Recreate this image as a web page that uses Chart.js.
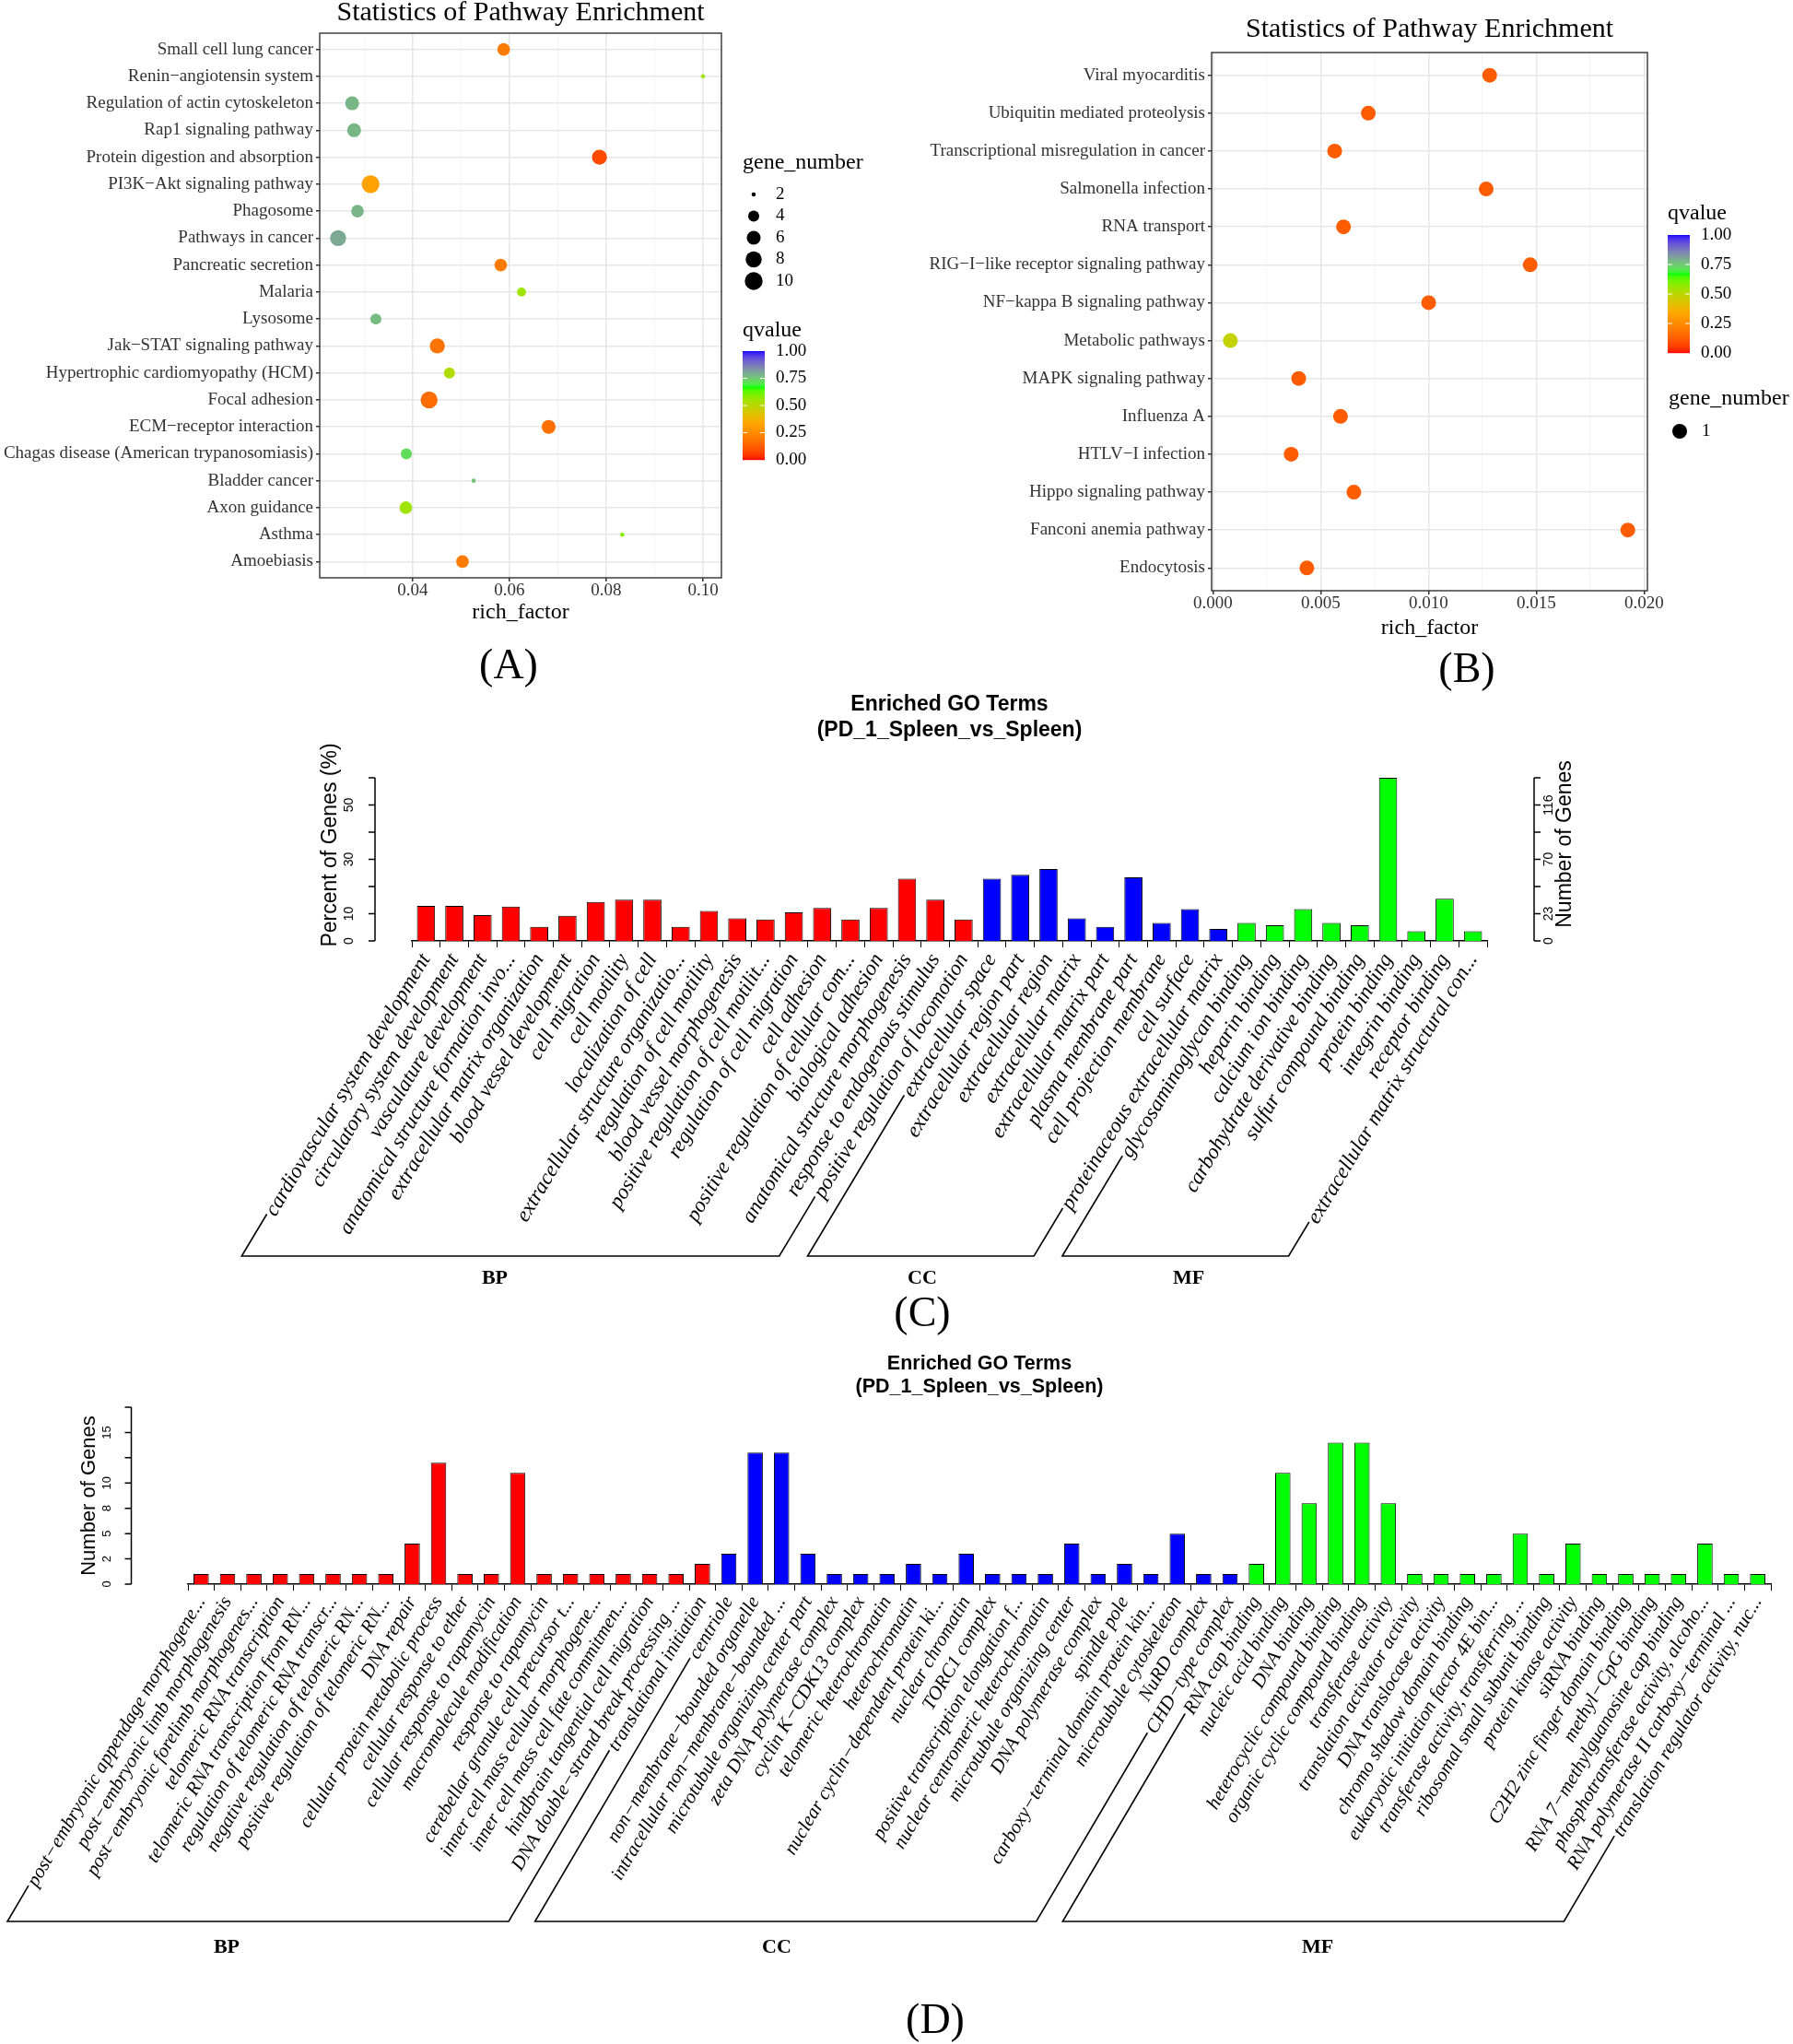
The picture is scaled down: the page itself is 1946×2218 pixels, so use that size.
<!DOCTYPE html>
<html>
<head>
<meta charset="utf-8">
<title>Pathway enrichment and GO terms</title>
<script src="https://cdn.jsdelivr.net/npm/chart.js@4.4.1/dist/chart.umd.min.js"></script>
<style>
  html, body { margin: 0; padding: 0; background: #fff; }
  body { position: relative; width: 1946px; height: 2218px; overflow: hidden; }
  canvas { position: absolute; }
  .tag { position: absolute; font-family: "Liberation Serif", "Times New Roman", serif; font-size: 46px;
         line-height: 1; transform: translate(-50%, -50%); color: #000; }
</style>
</head>
<body>
<canvas id="chartA" width="960" height="705" style="left:0px;top:0px"></canvas>
<canvas id="chartB" width="986" height="705" style="left:960px;top:0px"></canvas>
<canvas id="chartC" width="1946" height="720" style="left:0px;top:740px"></canvas>
<canvas id="chartD" width="1946" height="758" style="left:0px;top:1460px"></canvas>
<div class="tag" style="left:552px;top:721px">(A)</div>
<div class="tag" style="left:1592px;top:725px">(B)</div>
<div class="tag" style="left:1001px;top:1424px">(C)</div>
<div class="tag" style="left:1015px;top:2191px">(D)</div>
<script>
// panel A - pathway enrichment
const pathwaysA = ['Small cell lung cancer', 'Renin−angiotensin system', 'Regulation of actin cytoskeleton',
  'Rap1 signaling pathway', 'Protein digestion and absorption', 'PI3K−Akt signaling pathway', 'Phagosome',
  'Pathways in cancer', 'Pancreatic secretion', 'Malaria', 'Lysosome', 'Jak−STAT signaling pathway',
  'Hypertrophic cardiomyopathy (HCM)', 'Focal adhesion', 'ECM−receptor interaction',
  'Chagas disease (American trypanosomiasis)', 'Bladder cancer', 'Axon guidance', 'Asthma', 'Amoebiasis'];
const richFactorA = [0.0588, 0.1000, 0.0275, 0.0279, 0.0786, 0.0313, 0.0286, 0.0246, 0.0582, 0.0625,
  0.0324, 0.0451, 0.0476, 0.0434, 0.0681, 0.0387, 0.0526, 0.0386, 0.0833, 0.0503];
const geneNumberA = [5, 2, 6, 6, 7, 10, 5, 8, 5, 3, 4, 7, 4, 9, 6, 4, 2, 5, 2, 5];
const qvalueA = [0.2, 0.55, 0.78, 0.78, 0.08, 0.32, 0.78, 0.8, 0.2, 0.55, 0.77, 0.18, 0.52, 0.16, 0.17,
  0.72, 0.76, 0.55, 0.58, 0.2];
const xMajorA = [0.04, 0.06, 0.08, 0.10];
const xMinorA = [0.03, 0.05, 0.07, 0.09];
const xTickLabelsA = ['0.04', '0.06', '0.08', '0.10'];
const sizeBreaksA = [2, 4, 6, 8, 10];

// panel B - pathway enrichment
const pathwaysB = ['Viral myocarditis', 'Ubiquitin mediated proteolysis', 'Transcriptional misregulation in cancer',
  'Salmonella infection', 'RNA transport', 'RIG−I−like receptor signaling pathway', 'NF−kappa B signaling pathway',
  'Metabolic pathways', 'MAPK signaling pathway', 'Influenza A', 'HTLV−I infection', 'Hippo signaling pathway',
  'Fanconi anemia pathway', 'Endocytosis'];
const richFactorB = [0.01284, 0.00721, 0.00565, 0.01268, 0.00606, 0.01472, 0.01001, 0.00081, 0.00398,
  0.00592, 0.00363, 0.00654, 0.01925, 0.00436];
const geneNumberB = [1, 1, 1, 1, 1, 1, 1, 1, 1, 1, 1, 1, 1, 1];
const qvalueB = [0.12, 0.12, 0.12, 0.12, 0.12, 0.12, 0.12, 0.48, 0.12, 0.12, 0.12, 0.12, 0.12, 0.12];
const xMajorB = [0, 0.005, 0.010, 0.015, 0.020];
const xMinorB = [0.0025, 0.0075, 0.0125, 0.0175];
const xTickLabelsB = ['0.000', '0.005', '0.010', '0.015', '0.020'];
const sizeBreaksB = [1];

const qBreaks = [0, 0.25, 0.5, 0.75, 1];
const qBreakLabels = ['0.00', '0.25', '0.50', '0.75', '1.00'];

// panel C - GO terms, percent of genes
const termsBP_C = ['cardiovascular system development', 'circulatory system development', 'vasculature development',
  'anatomical structure formation invo...', 'extracellular matrix organization', 'blood vessel development',
  'cell migration', 'cell motility', 'localization of cell', 'extracellular structure organizatio...',
  'regulation of cell motility', 'blood vessel morphogenesis', 'positive regulation of cell motilit...',
  'regulation of cell migration', 'cell adhesion', 'positive regulation of cellular com...', 'biological adhesion',
  'anatomical structure morphogenesis', 'response to endogenous stimulus', 'positive regulation of locomotion'];
const percentBP_C = [12.9, 12.9, 9.5, 12.6, 5.2, 9.2, 14.3, 15.2, 15.2, 5.2, 11.0, 8.3, 7.9, 10.5, 12.1, 7.9,
  12.1, 22.9, 15.2, 7.9];
const termsCC_C = ['extracellular space', 'extracellular region part', 'extracellular region', 'extracellular matrix',
  'extracellular matrix part', 'plasma membrane part', 'cell projection membrane', 'cell surface',
  'proteinaceous extracellular matrix'];
const percentCC_C = [22.9, 24.3, 26.4, 8.3, 5.2, 23.4, 6.6, 11.7, 4.4];
const termsMF_C = ['glycosaminoglycan binding', 'heparin binding', 'calcium ion binding',
  'carbohydrate derivative binding', 'sulfur compound binding', 'protein binding', 'integrin binding',
  'receptor binding', 'extracellular matrix structural con...'];
const percentMF_C = [6.6, 5.8, 11.7, 6.6, 5.8, 60.0, 3.6, 15.5, 3.6];
const percentTicksC = [0, 10, 20, 30, 40, 50, 60];
const percentTickLabelsC = ['0', '10', '', '30', '', '50', ''];
const geneTicksC = [0, 23.2, 46.4, 69.6, 92.8, 116, 139.2];
const geneTickLabelsC = ['0', '23', '', '70', '', '116', ''];

// panel D - GO terms, number of genes
const termsBP_D = ['post−embryonic appendage morphogene...', 'post−embryonic limb morphogenesis',
  'post−embryonic forelimb morphogenes...', 'telomeric RNA transcription', 'telomeric RNA transcription from RN...',
  'regulation of telomeric RNA transcr...', 'negative regulation of telomeric RN...',
  'positive regulation of telomeric RN...', 'DNA repair', 'cellular protein metabolic process',
  'cellular response to ether', 'cellular response to rapamycin', 'macromolecule modification',
  'response to rapamycin', 'cerebellar granule cell precursor t...', 'inner cell mass cellular morphogene...',
  'inner cell mass cell fate commitmen...', 'hindbrain tangential cell migration',
  'DNA double−strand break processing ...', 'translational initiation'];
const genesBP_D = [1, 1, 1, 1, 1, 1, 1, 1, 4, 12, 1, 1, 11, 1, 1, 1, 1, 1, 1, 2];
const termsCC_D = ['centriole', 'non−membrane−bounded organelle', 'intracellular non−membrane−bounded ...',
  'microtubule organizing center part', 'zeta DNA polymerase complex', 'cyclin K−CDK13 complex',
  'telomeric heterochromatin', 'heterochromatin', 'nuclear cyclin−dependent protein ki...', 'nuclear chromatin',
  'TORC1 complex', 'positive transcription elongation f...', 'nuclear centromeric heterochromatin',
  'microtubule organizing center', 'DNA polymerase complex', 'spindle pole', 'carboxy−terminal domain protein kin...',
  'microtubule cytoskeleton', 'NuRD complex', 'CHD−type complex'];
const genesCC_D = [3, 13, 13, 3, 1, 1, 1, 2, 1, 3, 1, 1, 1, 4, 1, 2, 1, 5, 1, 1];
const termsMF_D = ['RNA cap binding', 'nucleic acid binding', 'DNA binding', 'heterocyclic compound binding',
  'organic cyclic compound binding', 'transferase activity', 'translation activator activity',
  'DNA translocase activity', 'chromo shadow domain binding', 'eukaryotic initiation factor 4E bin...',
  'transferase activity, transferring ...', 'ribosomal small subunit binding', 'protein kinase activity',
  'siRNA binding', 'C2H2 zinc finger domain binding', 'methyl−CpG binding', 'RNA 7−methylguanosine cap binding',
  'phosphotransferase activity, alcoho...', 'RNA polymerase II carboxy−terminal ...',
  'translation regulator activity, nuc...'];
const genesMF_D = [2, 11, 8, 14, 14, 8, 1, 1, 1, 1, 5, 1, 4, 1, 1, 1, 1, 4, 1, 1];
const geneTicksD = [0, 2.5, 5, 7.5, 10, 12.5, 15, 17.5];
const geneTickLabelsD = ['0', '2', '5', '8', '10', '', '15', ''];

const serif = '"Liberation Serif", "Times New Roman", serif';
const sans = '"Liberation Sans", Arial, sans-serif';

// colour ramp red -> orange -> green -> blue, mixed in Lab like ggplot does
const rampStops = ['#ff0000', '#ffa500', '#00ff00', '#0000ff'];
const toLin = c => { c /= 255; return c <= 0.04045 ? c / 12.92 : Math.pow((c + 0.055) / 1.055, 2.4); };
const fromLin = c => {
  c = c <= 0.0031308 ? 12.92 * c : 1.055 * Math.pow(Math.max(c, 0), 1 / 2.4) - 0.055;
  return Math.round(Math.max(0, Math.min(1, c)) * 255);
};
function hexToLab(h) {
  const [r, g, b] = [1, 3, 5].map(i => toLin(parseInt(h.slice(i, i + 2), 16)));
  const X = (0.4124 * r + 0.3576 * g + 0.1805 * b) / 0.95047;
  const Y = 0.2126 * r + 0.7152 * g + 0.0722 * b;
  const Z = (0.0193 * r + 0.1192 * g + 0.9505 * b) / 1.08883;
  const f = t => t > 0.008856 ? Math.cbrt(t) : 7.787 * t + 16 / 116;
  return [116 * f(Y) - 16, 500 * (f(X) - f(Y)), 200 * (f(Y) - f(Z))];
}
function labToCss([L, a, b]) {
  const fy = (L + 16) / 116, fx = fy + a / 500, fz = fy - b / 200;
  const g = t => t * t * t > 0.008856 ? t * t * t : (t - 16 / 116) / 7.787;
  const X = g(fx) * 0.95047, Y = g(fy), Z = g(fz) * 1.08883;
  const r = 3.2406 * X - 1.5372 * Y - 0.4986 * Z;
  const gg = -0.9689 * X + 1.8758 * Y + 0.0415 * Z;
  const bb = 0.0557 * X - 0.2040 * Y + 1.0570 * Z;
  return `rgb(${fromLin(r)},${fromLin(gg)},${fromLin(bb)})`;
}
const rampLab = rampStops.map(hexToLab);
function qColor(q) {
  const t = Math.max(0, Math.min(1, q)) * (rampLab.length - 1);
  const i = Math.min(Math.floor(t), rampLab.length - 2), f = t - i;
  return labToCss(rampLab[i].map((v, k) => v + (rampLab[i + 1][k] - v) * f));
}

const sizeA = n => 2.3 + 7.4 * Math.sqrt(Math.max(n - 2, 0) / 8);
const sizeB = () => 8;

function drawSizeLegend(ctx, l) {
  ctx.fillStyle = '#000';
  ctx.textAlign = 'left';
  ctx.textBaseline = 'middle';
  ctx.font = `24px ${serif}`;
  ctx.fillText('gene_number', l.x, l.titleY);
  ctx.font = `19px ${serif}`;
  l.breaks.forEach((n, i) => {
    const y = l.firstY + i * l.step;
    ctx.beginPath();
    ctx.arc(l.x + 12, y, l.radius(n), 0, Math.PI * 2);
    ctx.fill();
    ctx.fillText(String(n), l.x + 36, y);
  });
}

function drawColorBar(ctx, l) {
  ctx.fillStyle = '#000';
  ctx.textAlign = 'left';
  ctx.textBaseline = 'middle';
  ctx.font = `24px ${serif}`;
  ctx.fillText('qvalue', l.x, l.titleY);
  const h = l.bottom - l.top;
  for (let k = 0; k < h; k++) {
    ctx.fillStyle = qColor(1 - (k + 0.5) / h);
    ctx.fillRect(l.x, l.top + k, 24, 1.2);
  }
  ctx.strokeStyle = '#fff';
  ctx.lineWidth = 1;
  ctx.font = `19px ${serif}`;
  qBreaks.forEach((q, i) => {
    const y = l.bottom - q * h;
    if (q > 0 && q < 1) {
      ctx.beginPath();
      ctx.moveTo(l.x, y); ctx.lineTo(l.x + 5, y);
      ctx.moveTo(l.x + 19, y); ctx.lineTo(l.x + 24, y);
      ctx.stroke();
    }
    ctx.fillStyle = '#000';
    ctx.fillText(qBreakLabels[i], l.x + 36, y);
  });
}

function dotChart(id, cats, rich, genes, qv, radius, cfg) {
  const xTicks = cfg.majors.map((v, i) => ({value: v, label: cfg.labels[i], major: true}))
    .concat(cfg.minors.map(v => ({value: v, label: '', major: false})))
    .sort((p, q) => p.value - q.value);
  const tickFont = {family: serif, size: 19, lineHeight: 1};
  return new Chart(document.getElementById(id), {
    type: 'scatter',
    data: {
      datasets: [{
        data: cats.map((c, i) => ({x: rich[i], y: i})),
        pointRadius: genes.map(radius),
        pointHoverRadius: genes.map(radius),
        pointBackgroundColor: qv.map(qColor),
        pointBorderWidth: 0
      }]
    },
    options: {
      responsive: false, animation: false, events: [], devicePixelRatio: 1,
      layout: {padding: cfg.padding},
      plugins: {legend: {display: false}, tooltip: {enabled: false}},
      scales: {
        x: {
          type: 'linear', min: cfg.xMin, max: cfg.xMax,
          afterBuildTicks: s => { s.ticks = xTicks.map(t => ({value: t.value})); },
          afterFit: s => { s.height = cfg.xHeight; },
          ticks: {autoSkip: false, minRotation: 0, maxRotation: 0, font: tickFont, color: '#333', padding: 1,
                  callback: (v, i) => xTicks[i].label},
          grid: {
            color: c => xTicks[c.index] && xTicks[c.index].major ? '#e6e6e6' : '#f3f3f3',
            lineWidth: c => xTicks[c.index] && xTicks[c.index].major ? 1.5 : 0.9,
            tickColor: c => xTicks[c.index] && xTicks[c.index].major ? '#333' : 'rgba(0,0,0,0)',
            tickLength: 4
          },
          border: {display: false}
        },
        y: {
          type: 'linear', min: -0.6, max: cats.length - 0.4, reverse: true,
          afterBuildTicks: s => { s.ticks = cats.map((c, i) => ({value: i})); },
          afterFit: s => { s.width = cfg.yWidth; },
          ticks: {autoSkip: false, font: tickFont, color: '#333', padding: 3, callback: (v, i) => cats[i]},
          grid: {color: '#e6e6e6', lineWidth: 1.5, tickColor: '#333', tickLength: 4},
          border: {display: false}
        }
      }
    },
    plugins: [{
      id: 'dotPanel',
      afterDraw(chart) {
        const {ctx, chartArea: a} = chart;
        ctx.save();
        ctx.strokeStyle = '#333';
        ctx.lineWidth = 1.4;
        ctx.strokeRect(a.left, a.top, a.right - a.left, a.bottom - a.top);
        ctx.fillStyle = '#000';
        ctx.textAlign = 'center';
        ctx.textBaseline = 'middle';
        ctx.font = `30px ${serif}`;
        ctx.fillText('Statistics of Pathway Enrichment', (a.left + a.right) / 2, cfg.titleY);
        ctx.font = `24px ${serif}`;
        ctx.fillText('rich_factor', (a.left + a.right) / 2, cfg.xTitleY);
        cfg.legends.forEach(l => l.kind === 'size' ? drawSizeLegend(ctx, l) : drawColorBar(ctx, l));
        ctx.restore();
      }
    }]
  });
}

function drawRAxis(ctx, scale, ax, dir, ticks, labels, labelX, tickSize, title, titleX, titleY, titleSize) {
  const ys = ticks.map(v => scale.getPixelForValue(v));
  ctx.strokeStyle = '#000';
  ctx.lineWidth = 1.5;
  ctx.beginPath();
  ctx.moveTo(ax, ys[0]);
  ctx.lineTo(ax, ys[ys.length - 1]);
  ys.forEach(y => { ctx.moveTo(ax, y); ctx.lineTo(ax + dir * 7, y); });
  ctx.stroke();
  ctx.fillStyle = '#000';
  ctx.textAlign = 'center';
  ctx.textBaseline = 'middle';
  ctx.font = `${tickSize}px ${sans}`;
  ys.forEach((y, i) => {
    if (!labels[i]) return;
    ctx.save();
    ctx.translate(labelX, y);
    ctx.rotate(-Math.PI / 2);
    ctx.fillText(labels[i], 0, 0);
    ctx.restore();
  });
  ctx.font = `${titleSize}px ${sans}`;
  ctx.save();
  ctx.translate(titleX, titleY);
  ctx.rotate(-Math.PI / 2);
  ctx.fillText(title, 0, 0);
  ctx.restore();
}

function goChart(id, cfg) {
  const terms = cfg.groups.flatMap(g => g.terms);
  const values = cfg.groups.flatMap(g => g.values);
  const colors = cfg.groups.flatMap(g => g.terms.map(() => g.color));
  const labelFont = {family: serif, size: cfg.labelSize, style: 'italic', lineHeight: 1.2};
  return new Chart(document.getElementById(id), {
    type: 'bar',
    data: {
      labels: terms,
      datasets: [{data: values, backgroundColor: colors, borderColor: '#000', borderWidth: 1,
                  barPercentage: cfg.barPct, categoryPercentage: 1}]
    },
    options: {
      responsive: false, animation: false, events: [], devicePixelRatio: 1,
      layout: {padding: cfg.padding},
      plugins: {legend: {display: false}, tooltip: {enabled: false}},
      scales: {
        x: {
          offset: true,
          afterFit: s => { s.height = cfg.xHeight; },
          ticks: {autoSkip: false, minRotation: cfg.rotation, maxRotation: cfg.rotation,
                  font: labelFont, color: '#000', padding: 2},
          grid: {offset: true, drawOnChartArea: false, drawTicks: true, tickLength: 7, color: '#000', lineWidth: 1},
          border: {display: true, color: '#000', width: 1.5}
        },
        y: {display: false, min: 0, max: cfg.left.ticks[cfg.left.ticks.length - 1]},
        y2: {display: false, position: 'right', min: 0,
             max: cfg.right ? cfg.right.ticks[cfg.right.ticks.length - 1] : 1}
      }
    },
    plugins: [{
      id: 'goPanel',
      afterDraw(chart) {
        const {ctx, chartArea: a} = chart;
        const cx = (a.left + a.right) / 2;
        ctx.save();
        ctx.fillStyle = '#000';
        ctx.textAlign = 'center';
        ctx.textBaseline = 'middle';
        ctx.font = `bold ${cfg.titleSize}px ${sans}`;
        ctx.fillText('Enriched GO Terms', cx, cfg.titleY[0]);
        ctx.fillText('(PD_1_Spleen_vs_Spleen)', cx, cfg.titleY[1]);

        const L = cfg.left;
        drawRAxis(ctx, chart.scales.y, L.x, -1, L.ticks, L.labels, L.labelX, L.tickSize, L.title, L.titleX, L.titleY, L.titleSize);
        if (cfg.right) {
          const R = cfg.right;
          drawRAxis(ctx, chart.scales.y2, R.x, 1, R.ticks, R.labels, R.labelX, R.tickSize, R.title, R.titleX, R.titleY, R.titleSize);
        }

        // group brackets that run along the slanted term labels
        const xs = chart.scales.x;
        const th = cfg.rotation * Math.PI / 180, c = Math.cos(th), s = Math.sin(th);
        const ay = a.bottom + 7 + 2;
        ctx.font = `italic ${cfg.labelSize}px ${serif}`;
        const startOf = i => {
          const w = ctx.measureText(terms[i]).width + cfg.gap;
          const ax = xs.getPixelForValue(i);
          return [ax - w * c, ay + w * s];
        };
        const down = p => [p[0] - (cfg.bracketY - p[1]) * c / s, cfg.bracketY];
        ctx.strokeStyle = '#000';
        ctx.lineWidth = 1.6;
        let idx = 0;
        const marks = cfg.groups.map(g => {
          const p1 = startOf(idx), p2 = startOf(idx + g.terms.length - 1);
          idx += g.terms.length;
          return {name: g.name, p1, p2, b1: down(p1), b2: down(p2)};
        });
        marks.forEach(m => {
          ctx.beginPath();
          ctx.moveTo(m.p1[0], m.p1[1]);
          ctx.lineTo(m.b1[0], m.b1[1]);
          ctx.lineTo(m.b2[0], m.b2[1]);
          ctx.lineTo(m.p2[0], m.p2[1]);
          ctx.stroke();
        });
        ctx.font = `bold 22px ${serif}`;
        marks.forEach((m, i) => ctx.fillText(m.name, cfg.groupLabelX[i], cfg.groupLabelY));
        ctx.restore();
      }
    }]
  });
}

dotChart('chartA', pathwaysA, richFactorA, geneNumberA, qvalueA, sizeA, {
  padding: {left: 0, right: 177, top: 36, bottom: 0},
  yWidth: 347, xHeight: 78, xMin: 0.0208, xMax: 0.1038,
  majors: xMajorA, minors: xMinorA, labels: xTickLabelsA,
  titleY: 14, xTitleY: 665,
  legends: [
    {kind: 'size', x: 806, titleY: 177, breaks: sizeBreaksA, firstY: 211, step: 23.5, radius: sizeA},
    {kind: 'color', x: 806, titleY: 359, top: 381, bottom: 499}
  ]
});

dotChart('chartB', pathwaysB, richFactorB, geneNumberB, qvalueB, sizeB, {
  padding: {left: 0, right: 158, top: 57, bottom: 0},
  yWidth: 355, xHeight: 64, xMin: -0.00006, xMax: 0.02016,
  majors: xMajorB, minors: xMinorB, labels: xTickLabelsB,
  titleY: 32, xTitleY: 682,
  legends: [
    {kind: 'color', x: 850, titleY: 232, top: 255, bottom: 383},
    {kind: 'size', x: 851, titleY: 433, breaks: sizeBreaksB, firstY: 468, step: 24, radius: sizeB}
  ]
});

goChart('chartC', {
  groups: [
    {name: 'BP', terms: termsBP_C, values: percentBP_C, color: '#ff0000'},
    {name: 'CC', terms: termsCC_C, values: percentCC_C, color: '#0000ff'},
    {name: 'MF', terms: termsMF_C, values: percentMF_C, color: '#00ff00'}
  ],
  padding: {left: 447, right: 332, top: 104, bottom: 0},
  xHeight: 439, barPct: 0.64, rotation: 59, labelSize: 23, gap: 8,
  titleSize: 23, titleY: [25, 53],
  left: {x: 407, ticks: percentTicksC, labels: percentTickLabelsC, labelX: 379, tickSize: 14,
         title: 'Percent of Genes (%)', titleX: 359, titleY: 177, titleSize: 23},
  right: {x: 1665, ticks: geneTicksC, labels: geneTickLabelsC, labelX: 1681, tickSize: 14,
          title: 'Number of Genes', titleX: 1699, titleY: 176, titleSize: 23},
  bracketY: 623, groupLabelY: 647, groupLabelX: [537, 1001, 1290]
});

goChart('chartD', {
  groups: [
    {name: 'BP', terms: termsBP_D, values: genesBP_D, color: '#ff0000'},
    {name: 'CC', terms: termsCC_D, values: genesCC_D, color: '#0000ff'},
    {name: 'MF', terms: termsMF_D, values: genesMF_D, color: '#00ff00'}
  ],
  padding: {left: 204, right: 24, top: 67, bottom: 0},
  xHeight: 499, barPct: 0.58, rotation: 59.5, labelSize: 21, gap: 8,
  titleSize: 21.5, titleY: [20, 45],
  left: {x: 142.5, ticks: geneTicksD, labels: geneTickLabelsD, labelX: 116, tickSize: 13,
         title: 'Number of Genes', titleX: 97, titleY: 163, titleSize: 22},
  right: null,
  bracketY: 625, groupLabelY: 653, groupLabelX: [246, 843, 1430]
});
</script>
</body>
</html>
